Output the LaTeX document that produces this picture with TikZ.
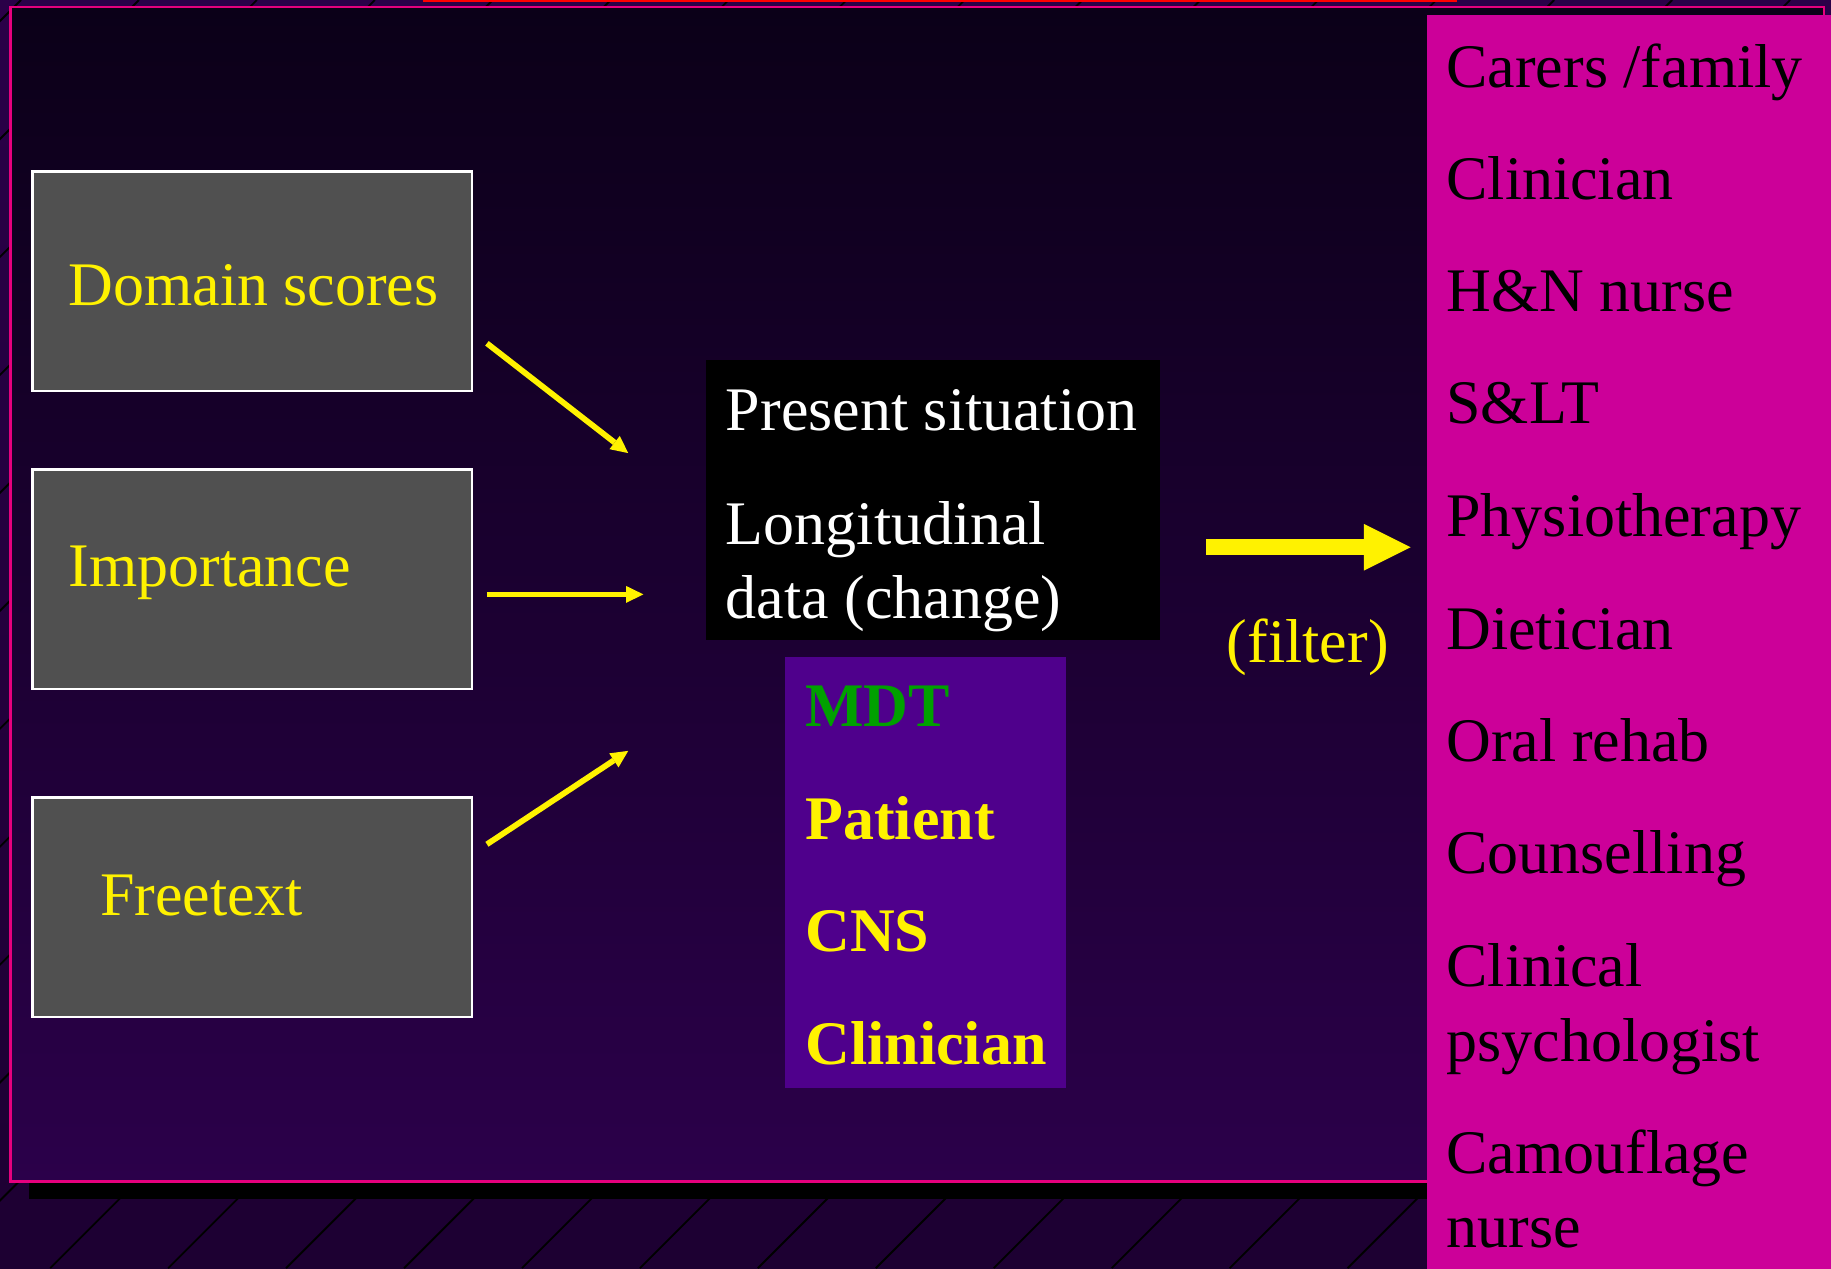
\documentclass[tikz,border=0pt]{standalone}
\usepackage{fontspec}
\setmainfont{Liberation Serif}
\usetikzlibrary{arrows.meta}
\definecolor{framepink}{RGB}{230,0,126}
\definecolor{boxgrey}{RGB}{80,80,80}
\definecolor{rolemagenta}{RGB}{204,0,153}
\definecolor{mdtpurple}{RGB}{79,0,140}
\definecolor{mdtgreen}{RGB}{0,160,0}
\definecolor{bgtop}{RGB}{42,0,72}
\definecolor{bgbottom}{RGB}{29,0,50}
\definecolor{paneltop}{RGB}{11,0,24}
\definecolor{panelbottom}{RGB}{43,0,74}
\begin{document}
\begin{tikzpicture}[x=0.1mm,y=-0.1mm,
  slidefont/.style={font=\fontsize{15.1pt}{18pt}\selectfont},
  greybox/.style={draw=white,line width=0.6pt,fill=boxgrey,minimum width=37.6mm,minimum height=18.8mm,inner sep=0pt},
  ytext/.style={slidefont,text=yellow,anchor=base west,inner sep=0pt},
  wtext/.style={slidefont,text=white,anchor=base west,inner sep=0pt},
  ktext/.style={slidefont,text=black,anchor=base west,inner sep=0pt},
  btext/.style={slidefont,font=\fontsize{15.1pt}{18pt}\selectfont\bfseries,text=yellow,anchor=base west,inner sep=0pt},
  thinarrow/.style={draw=yellow,line width=1.4pt,-{Triangle[length=4.2pt,width=4.1pt,line width=0pt]}},
  filterarrow/.style={draw=yellow,line width=3.8pt,-{Triangle[length=11.4pt,width=11.4pt,line width=0pt]}},
  bgline/.style={draw=black,line width=0.45pt}]
\useasboundingbox (0,0) rectangle (1568,1086);
\shade[top color=bgtop,bottom color=bgbottom] (0,0) rectangle (1568,1086);
\begin{scope}
\clip (0,0) rectangle (1568,1086);
\foreach \k in {0,...,26}
  \draw[bgline] ({18+101*\k},0) -- ({18+101*\k-1086},1086);
\end{scope}
\fill[black] (25,22) rectangle (1578,1027);
\shade[top color=paneltop,bottom color=panelbottom] (9,6) rectangle (1562,1012);
\draw[framepink,line width=0.7pt] (9,6) rectangle (1562,1012);
\draw[red,line width=0.45pt] (362,0.7) -- (1248,0.7);

\node[greybox] (domain) at (216,241) {};
\node[greybox] (importance) at (216,496) {};
\node[greybox] (freetext) at (216,777) {};
\node[ytext] (domaintxt) at (58,262) {Domain scores};
\node[ytext] (importancetxt) at (58,502) {Importance};
\node[ytext] (freetexttxt) at (85,784) {Freetext};

\node[fill=black,minimum width=38.8mm,minimum height=24mm,inner sep=0pt] (situation) at (799,428) {};
\node[wtext] (present) at (621,369) {Present situation};
\node[wtext] (longit) at (621,466) {Longitudinal};
\node[wtext] (change) at (621,530) {data (change)};

\node[fill=mdtpurple,minimum width=24.1mm,minimum height=36.9mm,inner sep=0pt] (mdt) at (792.5,747.5) {};
\node[btext,text=mdtgreen] (mdttxt) at (689,622) {MDT};
\node[btext] (patient) at (689,719) {Patient};
\node[btext] (cns) at (689,815) {CNS};
\node[btext] (clinician) at (689,912) {Clinician};

\coordinate (domain-tail) at (417,294);
\coordinate (domain-head) at (538,388);
\coordinate (importance-tail) at (417,509);
\coordinate (importance-head) at (551,509);
\coordinate (freetext-tail) at (417,723);
\coordinate (freetext-head) at (538,643);
\draw[thinarrow] (domain-tail) -- (domain-head);
\draw[thinarrow] (importance-tail) -- (importance-head);
\draw[thinarrow] (freetext-tail) -- (freetext-head);

\node[fill=rolemagenta,minimum width=34.8mm,minimum height=107.5mm,inner sep=0pt] (roles) at (1396,550.5) {};
\foreach \role/\yy [count=\i] in {{Carers /family}/74.5, Clinician/171, {H\&N nurse}/267, S\&LT/363, Physiotherapy/459, Dietician/556, {Oral rehab}/652, Counselling/748, Clinical/845, psychologist/909, Camouflage/1005, nurse/1068}
  \node[ktext] (role\i) at (1238,\yy) {\role};

\coordinate (filter-tail) at (1033,468.6);
\coordinate (filter-head) at (1208,468.6);
\draw[filterarrow] (filter-tail) -- (filter-head);
\node[ytext] (filter) at (1050,567) {(filter)};
\end{tikzpicture}
\end{document}
